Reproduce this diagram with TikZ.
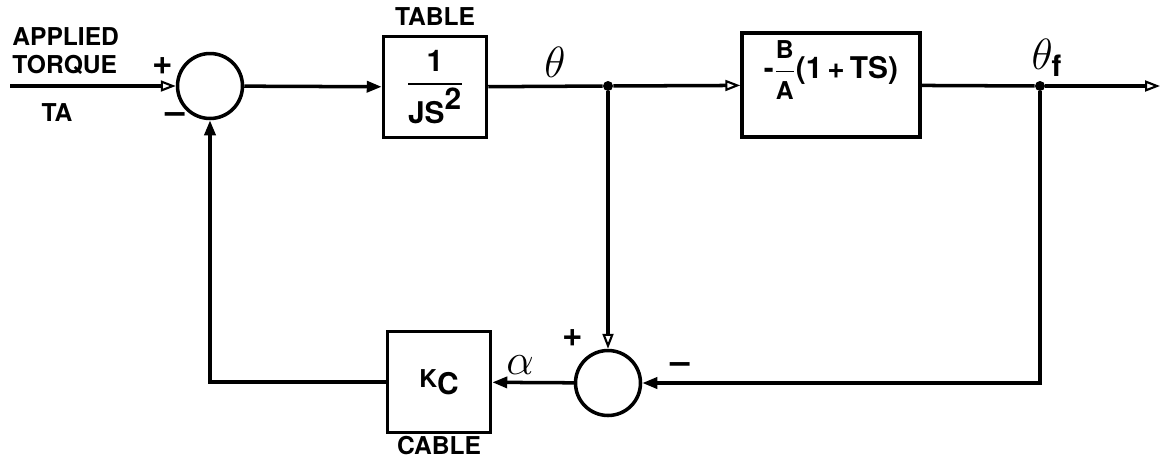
\documentclass[tikz,border=0pt]{standalone}
\usepackage{amsmath}
\usepackage{fontspec}
\setmainfont{TeX Gyre Heros}
\usetikzlibrary{arrows.meta}

\begin{document}
\begin{tikzpicture}[
        x=0.02cm, y=-0.02cm,
        w/.style={line width=2pt},
        s/.style={draw,w,rectangle,minimum height=2.02cm, minimum width=2.06cm, inner sep=0pt,
            font=\fontsize{17}{20}\selectfont},
        c/.style={draw,w,circle,minimum size=1.3cm, inner sep=0pt},
        j/.style={circle,fill,inner sep=0pt,minimum size=0.2cm},
        l/.style={font=\fontsize{14}{16}\selectfont\bfseries, inner sep=0pt},
        sgn/.style={font=\fontsize{20}{20}\selectfont\bfseries, inner sep=0pt},
        g/.style={font=\fontsize{24}{24}\selectfont, inner sep=0pt},
        fa/.style={-{Triangle[length=0.3cm,width=0.22cm]}},
        oa/.style={-{Triangle[open,length=0.3cm,width=0.22cm,line width=1.2pt]}}
    ]

    \useasboundingbox (0,0) rectangle (1162,461);

    \node[c] (sum1) at (210,86) {};
    \node[s] (table) at (435,87) {$\displaystyle\frac{\mbox{\bfseries 1}}{\mbox{\bfseries JS}^{\mbox{\bfseries 2}}}$};
    \node[j] (j1) at (608,86) {};
    \node[s,minimum width=3.56cm,minimum height=2.08cm] (gain) at (831,85)
        {\raisebox{0.3cm}[\height][\depth]{\bfseries
        -$\displaystyle\frac{\mbox{\fontsize{14}{16}\selectfont\bfseries B}}{\mbox{\fontsize{14}{16}\selectfont\bfseries A}}$(1\,+\,TS)}};
    \node[j] (j2) at (1040,86) {};
    \node[c] (sum2) at (608,383) {};
    \node[s] (kc) at (439,382) {\bfseries\fontsize{14}{16}\selectfont K\raisebox{-4pt}{\fontsize{17}{20}\selectfont C}};

    \coordinate (in) at (10,86);
    \coordinate (out) at (1160,86);

    % labels
    \node[l,anchor=west] (applied) at (12,37) {APPLIED};
    \node[l,anchor=west] (torque) at (12,65) {TORQUE};
    \node[l] (ta) at (57,113) {TA};
    \node[l] (tablelbl) at (435,17) {TABLE};
    \node[l] (cablelbl) at (439,446) {CABLE};
    \node[g] (theta) at (555,62) {$\theta$};
    \node[g] (thetaf) at (1047,58) {$\theta_{\textbf{f}}$};
    \node[g] (alpha) at (520,365) {$\alpha$};
    \node[sgn] (p1) at (163,66) {+};
    \node[sgn] (m1) at (175,118) {--};
    \node[sgn] (p2) at (573,338) {+};
    \node[sgn] (m2) at (680,368) {--};

    \draw[w,oa] (in) -- (sum1);
    \draw[w,fa] (sum1) -- (table);
    \draw[w] (table) -- (j1);
    \draw[w,oa] (j1) -- (gain);
    \draw[w] (gain) -- (j2);
    \draw[w,oa] (j2) -- (out);
    \draw[w,oa] (j1) -- (sum2);
    \draw[w,fa] (j2) |- (sum2);
    \draw[w,fa] (sum2) -- (kc);
    \draw[w,fa] (kc) -| (sum1);

\end{tikzpicture}
\end{document}
